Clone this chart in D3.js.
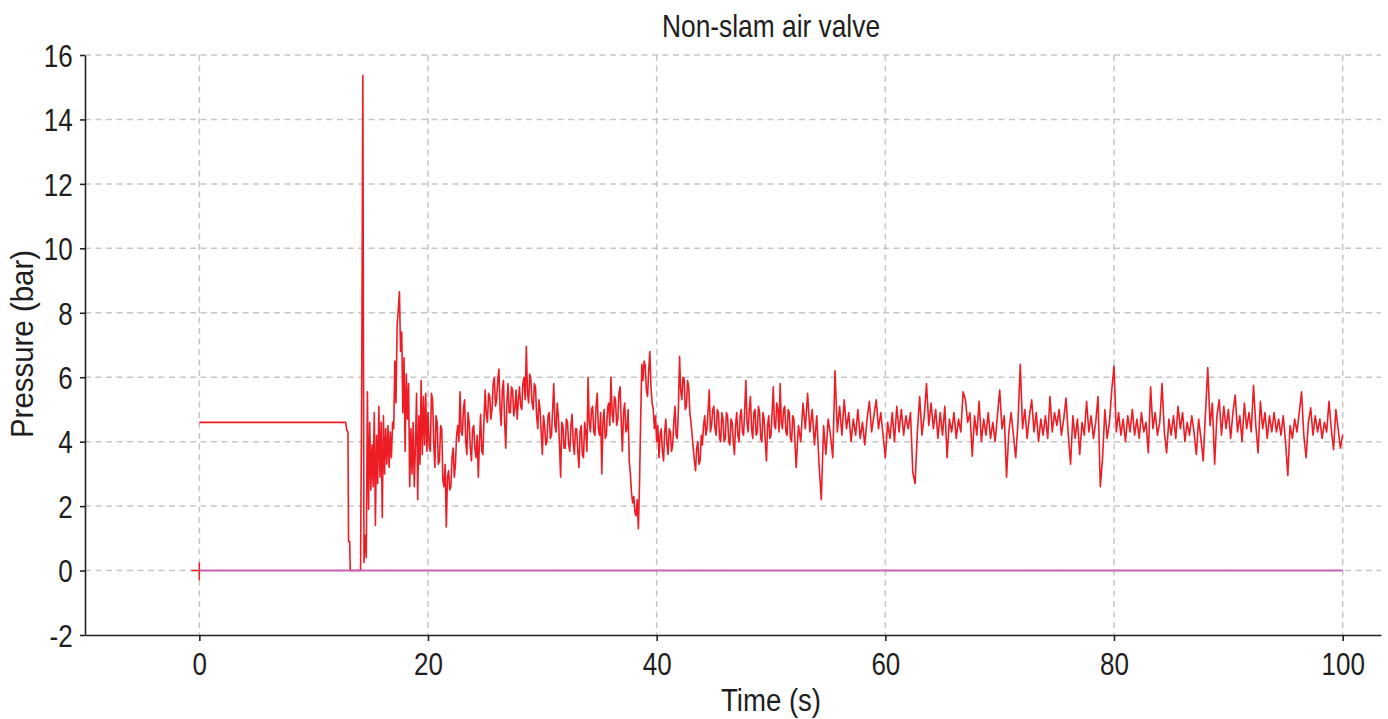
<!DOCTYPE html>
<html>
<head>
<meta charset="utf-8">
<script src="https://cdn.jsdelivr.net/npm/d3@7"></script>
<style>
  html, body { margin: 0; padding: 0; background: #fff; }
  svg { display: block; }
  text { font-family: "Liberation Sans", Arial, sans-serif; fill: #1e1e1e; }
</style>
</head>
<body>
<svg id="chart" width="1388" height="719"></svg>
<script>
// ---------- data ----------
const chartTitle = "Non-slam air valve";
const xLabel = "Time (s)";
const yLabel = "Pressure (bar)";
const xTicks = [0, 20, 40, 60, 80, 100];
const yTicks = [-2, 0, 2, 4, 6, 8, 10, 12, 14, 16];

// steady state before the valve event
const preT = [0, 12.8, 12.9, 13.0, 13.05, 13.15, 13.2];
const preP = [4.6, 4.6, 4.35, 4.3, 0.9, 0.9, 0];

// burst: 14.0 s .. 19.9 s, every 0.1 s
const burstStart = 14.0, burstStep = 0.1;
const burstP = [
  0, 0, 5.6, 15.36, 0.25, 1.1, 0.4, 5.55, 1.9, 4.6,
  2.5, 3.9, 2.6, 4.9, 1.4, 4.2, 2.7, 5.1, 2.9, 4.6,
  1.65, 4.8, 3.0, 4.4, 3.3, 4.5, 3.2, 4.3, 3.5, 4.6,
  4.4, 6.5, 5.2, 7.6, 8.1, 8.65, 6.8, 7.4, 4.9, 6.6,
  3.7, 6.1, 4.7, 5.8, 2.6, 4.4, 3.0, 4.6, 2.6, 3.9,
  5.5, 2.2, 4.8, 3.3, 5.9, 3.6, 5.4, 3.9, 5.5, 3.7
];

// settling: 20.0 s .. 51.9 s, every 0.1 s
const settleStart = 20.0, settleStep = 0.1;
const settleP = [
  4.9, 3.9, 3.7, 5.5, 5.3, 4.0, 3.2, 4.8, 4.6, 3.3,
  3.4, 4.5, 4.4, 2.8, 2.6, 3.3, 1.35, 2.9, 3.1, 2.5,
  2.6, 3.5, 3.8, 2.9, 3.3, 4.2, 4.5, 4.0, 5.55, 4.3,
  4.2, 5.0, 5.3, 4.0, 3.6, 4.9, 4.6, 3.8, 3.4, 4.4,
  4.5, 3.8, 3.5, 4.2, 2.9, 4.0, 4.85, 3.7, 3.6, 4.7,
  5.6, 4.8, 4.6, 5.5, 5.4, 4.7, 5.0, 5.8, 6.0, 5.1,
  5.3, 5.9, 6.25, 5.0, 4.5, 5.6, 5.9, 4.6, 3.8, 5.2,
  5.8, 4.9, 4.9, 5.7, 5.6, 4.8, 5.0, 5.6, 4.7, 5.3,
  5.7, 5.1, 5.0, 5.8, 6.0, 5.3, 6.95, 5.5, 5.2, 6.1,
  5.9, 5.2, 5.0, 5.8, 5.7, 4.8, 4.4, 5.3, 5.0, 4.3,
  3.6, 4.8, 4.5, 3.9, 4.0, 4.8, 4.9, 4.1, 4.2, 5.0,
  5.8, 4.5, 4.3, 5.2, 4.8, 3.9, 2.9, 4.6, 4.5, 3.8,
  3.8, 4.7, 4.6, 3.9, 3.7, 4.5, 4.85, 4.0, 3.6, 4.4,
  4.4, 3.7, 3.2, 4.3, 4.5, 3.6, 3.5, 4.6, 4.3, 3.7,
  6.0, 4.6, 4.3, 5.0, 5.1, 4.3, 4.2, 5.1, 5.5, 4.4,
  4.2, 4.9, 3.0, 4.6, 5.0, 4.1, 4.2, 5.0, 5.2, 4.5,
  6.0, 4.9, 4.6, 5.4, 5.3, 4.5, 4.7, 5.5, 5.7, 4.6,
  3.7, 4.9, 5.2, 4.3, 4.4, 5.0, 3.4, 3.0, 2.4, 2.1,
  2.3, 1.8, 1.7, 2.2, 1.3, 2.7, 4.7, 6.4, 5.9, 6.5,
  6.35, 5.6, 5.4, 6.2, 6.8, 5.7, 5.2, 5.0, 4.4, 4.8,
  4.0, 4.5, 3.5, 4.2, 4.4, 3.7, 3.4, 4.3, 4.7, 3.9,
  3.6, 4.4, 4.3, 3.7, 3.9, 4.6, 5.1, 4.2, 4.1, 5.0,
  6.65, 5.6, 5.3, 6.0, 5.95, 5.0, 5.1, 5.9, 5.7, 4.9,
  4.6, 4.2, 3.8, 3.4, 3.1, 3.8, 4.0, 3.3, 3.4, 4.2,
  3.9, 4.5, 4.8, 4.2, 4.4, 5.0, 5.6, 4.3, 4.5, 5.0,
  5.1, 4.4, 4.2, 5.0, 4.9, 4.1, 4.0, 4.9, 4.7, 4.0,
  4.1, 4.9, 4.8, 4.0, 3.9, 4.7, 4.6, 4.0, 3.6, 4.5,
  4.9, 4.2, 4.0, 4.8, 5.0, 4.3, 4.2, 5.0, 5.9, 4.6,
  4.3, 5.0, 5.4, 4.4, 4.1, 4.9, 5.0, 4.2, 4.3, 5.1,
  4.9, 4.1, 4.0, 4.9, 4.7, 4.0, 3.4, 4.5, 4.8, 4.1,
  4.2, 4.9, 5.7, 4.5, 4.4, 5.2, 5.0, 4.3, 5.8, 4.6,
  4.4, 5.0, 5.1, 4.3, 4.2, 5.0, 4.9, 4.1, 4.0, 4.8
];

// steady oscillation: 52.0 s .. 100.0 s, every 0.2 s
const mainStart = 52.0, mainStep = 0.2;
const mainP = [
  4.7, 3.2, 4.5, 4.0, 5.2,
  4.4, 5.5, 4.3, 5.0, 3.9,
  4.8, 3.3, 2.2, 4.5, 3.6,
  4.7, 4.2, 3.5, 6.2, 4.3,
  5.1, 4.2, 5.3, 4.4, 4.9,
  4.0, 4.7, 4.2, 5.0, 4.1,
  4.6, 3.9, 4.7, 5.25, 4.3,
  4.8, 5.3, 4.4, 4.9, 4.2,
  3.5, 4.6, 4.1, 4.9, 4.0,
  5.1, 4.3, 5.0, 4.2, 4.8,
  4.4, 4.9, 3.05, 2.7, 4.3,
  5.4, 4.2, 4.8, 5.8, 4.5,
  5.2, 4.4, 5.0, 4.1, 4.9,
  4.2, 5.1, 3.5, 4.7, 4.3,
  4.9, 4.1, 4.7, 4.3, 5.55,
  5.3, 4.6, 4.9, 3.55, 4.8,
  4.2, 5.25, 4.0, 4.7, 4.2,
  4.9, 4.1, 4.6, 4.0, 4.8,
  5.6, 4.4, 4.8, 2.9, 4.3,
  4.9, 4.2, 3.5, 4.6, 6.4,
  4.4, 5.0, 4.1, 4.8, 5.3,
  4.3, 4.9, 4.0, 4.7, 4.2,
  4.8, 4.1, 5.4, 4.3, 4.9,
  4.5, 5.0, 4.2, 4.7, 5.35,
  4.2, 3.3, 4.8, 4.1, 4.7,
  3.6, 4.6, 4.2, 5.25, 4.3,
  4.8, 4.1, 4.6, 5.4, 2.6,
  3.5, 5.0, 4.1, 4.6, 5.6,
  6.35, 4.3, 4.9, 4.2, 4.7,
  4.0, 4.8, 4.3, 5.0, 4.2,
  4.7, 4.1, 4.9, 4.3, 4.6,
  3.65, 5.7, 4.4, 4.9, 4.2,
  4.6, 5.8, 4.3, 3.65, 4.7,
  4.2, 4.8, 4.1, 5.1, 4.4,
  4.9, 4.0, 4.6, 4.2, 4.8,
  4.3, 3.6, 4.7, 4.1, 3.4,
  4.9, 6.3, 4.5, 5.2, 3.3,
  4.8, 5.3, 4.2, 5.1, 4.4,
  5.0, 4.1, 4.9, 5.45, 4.3,
  4.8, 4.0, 5.2, 4.4, 4.9,
  4.3, 5.75, 4.5, 3.65, 5.25,
  4.4, 4.9, 4.1, 4.8, 4.3,
  4.9, 4.3, 4.7, 4.2, 4.8,
  4.0, 2.95, 4.5, 4.1, 4.7,
  4.3, 4.9, 5.55, 4.2, 3.5,
  4.6, 5.05, 4.2, 4.8, 4.3,
  4.7, 4.1, 4.6, 4.3, 5.25,
  4.4, 3.75, 5.0, 4.4, 3.8,
  4.2
];

// small start marker on the red series
const markerT = [-0.7, 0, 0, 0];
const markerP = [0, 0, 0.25, -0.3];

// reference (zero) line
const refT = [0, 100];
const refP = [0, 0];

// ---------- build series ----------
const redSeries = [];
preT.forEach((t, i) => redSeries.push([t, preP[i]]));
burstP.forEach((p, i) => redSeries.push([+(burstStart + i * burstStep).toFixed(3), p]));
settleP.forEach((p, i) => redSeries.push([+(settleStart + i * settleStep).toFixed(3), p]));
mainP.forEach((p, i) => redSeries.push([+(mainStart + i * mainStep).toFixed(3), p]));
const markerSeries = markerT.map((t, i) => [t, markerP[i]]);
const refSeries = refT.map((t, i) => [t, refP[i]]);

// ---------- layout ----------
const plot = { left: 85, right: 1381, top: 55, bottom: 635 };
const FONT = 31, SX = 0.84;

const svg = d3.select("#chart");
const x = d3.scaleLinear().domain([-10, 103.35]).range([plot.left, plot.right]);
const y = d3.scaleLinear().domain([-2, 16]).range([plot.bottom, plot.top]);

// grid
const grid = svg.append("g").attr("stroke", "#c6c6c6").attr("stroke-width", 1.5)
  .attr("stroke-dasharray", "6,4.5").attr("fill", "none");
grid.selectAll("line.h").data(yTicks.filter(d => d !== -2)).join("line")
  .attr("x1", plot.left).attr("x2", plot.right)
  .attr("y1", d => y(d)).attr("y2", d => y(d));
grid.selectAll("line.v").data(xTicks).join("line")
  .attr("x1", d => x(d)).attr("x2", d => x(d))
  .attr("y1", plot.top).attr("y2", plot.bottom);

// axes
const axisColor = "#222";
const gx = svg.append("g").attr("transform", `translate(0,${plot.bottom})`)
  .call(d3.axisBottom(x).tickValues(xTicks).tickSize(6).tickSizeOuter(0).tickFormat(d => String(d)));
const gy = svg.append("g").attr("transform", `translate(${plot.left},0)`)
  .call(d3.axisLeft(y).tickValues(yTicks).tickSize(5).tickSizeOuter(0).tickFormat(d => String(d)));
[gx, gy].forEach(g => {
  g.select(".domain").attr("stroke", axisColor).attr("stroke-width", 1.6);
  g.selectAll(".tick line").attr("stroke", axisColor).attr("stroke-width", 1.6);
  g.selectAll(".tick text").attr("font-size", FONT).attr("fill", "#1e1e1e")
    .attr("font-family", '"Liberation Sans", Arial, sans-serif');
});
gx.selectAll(".tick text").attr("y", null).attr("dy", null)
  .attr("text-anchor", "middle")
  .attr("transform", `translate(0,40) scale(${SX},1)`);
gy.selectAll(".tick text").attr("x", null).attr("dy", null)
  .attr("text-anchor", "end")
  .attr("transform", `translate(-12.3,11.3) scale(${SX},1)`);

// series
const line = d3.line().x(d => x(d[0])).y(d => y(d[1]));
svg.append("clipPath").attr("id", "plotclip").append("rect")
  .attr("x", plot.left).attr("y", plot.top - 40)
  .attr("width", plot.right - plot.left).attr("height", plot.bottom - plot.top + 40);
const series = svg.append("g").attr("clip-path", "url(#plotclip)");
series.append("path").datum(redSeries).attr("d", line)
  .attr("fill", "none").attr("stroke", "#ee1c24").attr("stroke-width", 1.6)
  .attr("stroke-linejoin", "round");
series.append("path").datum(markerSeries).attr("d", line)
  .attr("fill", "none").attr("stroke", "#ee1c24").attr("stroke-width", 1.5);
series.append("path").datum(refSeries).attr("d", line)
  .attr("fill", "none").attr("stroke", "#c866b4").attr("stroke-width", 2);

// titles
svg.append("text").attr("text-anchor", "middle").attr("font-size", 31)
  .attr("transform", `translate(${x(50)},36.7) scale(0.85,1)`).text(chartTitle);
svg.append("text").attr("text-anchor", "middle").attr("font-size", FONT)
  .attr("transform", `translate(${x(50)},711) scale(0.89,1)`).text(xLabel);
svg.append("text").attr("text-anchor", "middle").attr("font-size", FONT)
  .attr("transform", `translate(33,344) rotate(-90) scale(0.95,1)`).text(yLabel);
</script>
</body>
</html>
